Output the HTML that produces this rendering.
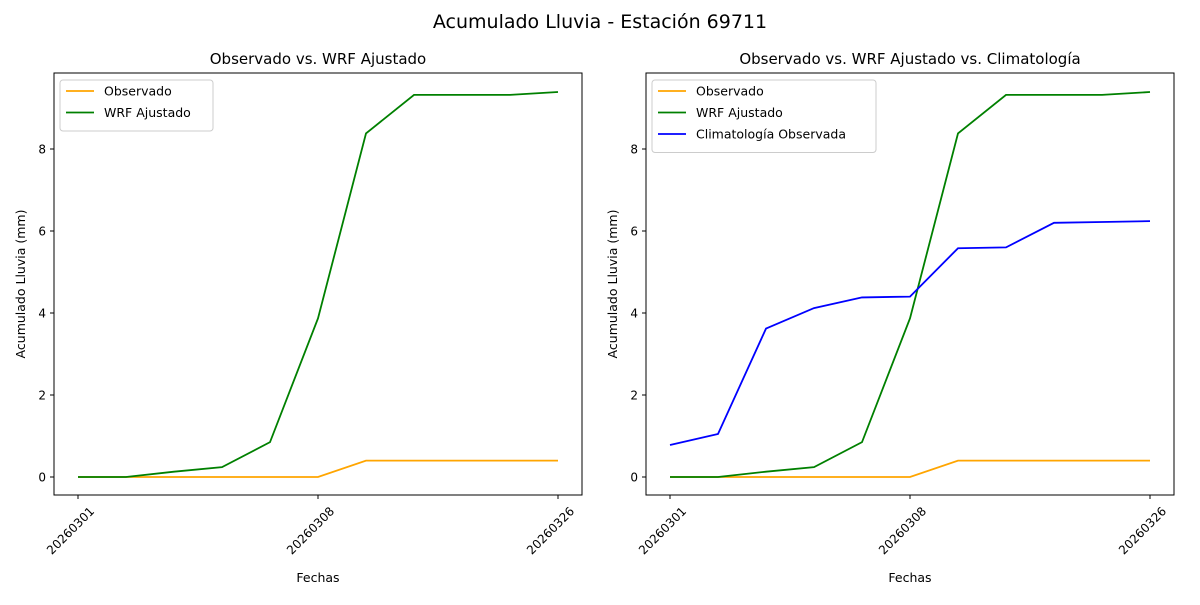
<!DOCTYPE html>
<html><head><meta charset="utf-8"><style>
body{margin:0;background:#fff;font-family:"Liberation Sans","DejaVu Sans",sans-serif}
svg text{font-family:"DejaVu Sans","Liberation Sans",sans-serif}
</style></head><body>
<svg id="c" width="1200" height="600" xmlns="http://www.w3.org/2000/svg"></svg>
<script>
const categories=["20260301","","","","","20260308","","","","","20260326"];
const tickIdx=[0,5,10];
const observado=[0,0,0,0,0,0,0.4,0.4,0.4,0.4,0.4];
const wrf=[0,0,0.13,0.24,0.85,3.87,8.38,9.32,9.32,9.32,9.39];
const clima=[0.78,1.05,3.62,4.12,4.38,4.40,5.58,5.60,6.20,6.22,6.24];
const yTicks=[0,2,4,6,8];
const NS="http://www.w3.org/2000/svg";
const svg=document.getElementById('c');
function el(t,a,p){const e=document.createElementNS(NS,t);for(const k in a)e.setAttribute(k,a[k]);(p||svg).appendChild(e);return e;}
const t=el('text',{x:600,y:28,'text-anchor':'middle','font-size':19});t.textContent='Acumulado Lluvia - Estación 69711';


function panel(x0,title,series,legendW,id){
  const x1=x0+528,yTop=73,yBot=495;
  const g=el('g',{});
  
  
  const X=i=>x0+24+i*48;
  const Y=v=>477-v*41;
  const tt=el('text',{x:(x0+x1)/2,y:64,'text-anchor':'middle','font-size':15},g);tt.textContent=title;
  
  
  series.forEach(s=>{
    const d=s.data.map((v,i)=>(i?'L':'M')+X(i)+','+Y(v)).join(' ');
    const p=el('path',{d:d,fill:'none',stroke:s.color,'stroke-width':1.8},g);
    
    
  });
  el('rect',{x:x0,y:yTop,width:528,height:yBot-yTop,fill:'none',stroke:'#000','stroke-width':1},g);
  yTicks.forEach(v=>{
    el('line',{x1:x0-4,x2:x0,y1:Y(v),y2:Y(v),stroke:'#000'},g);
    const l=el('text',{x:x0-8,y:Y(v)+4.5,'text-anchor':'end','font-size':12},g);l.textContent=v;
    
    
  });
  tickIdx.forEach(i=>{
    el('line',{x1:X(i),x2:X(i),y1:yBot,y2:yBot+4,stroke:'#000'},g);
    const ax=X(i)+17, ay=yBot+17;
    const l=el('text',{x:ax,y:ay,'text-anchor':'end','font-size':12,transform:`rotate(-45 ${ax} ${ay})`},g);
    l.textContent=categories[i];
    
    
  });
  const xl=el('text',{x:(x0+x1)/2,y:582,'text-anchor':'middle','font-size':12.5},g);xl.textContent='Fechas';
  
  
  const yl=el('text',{x:0,y:0,'text-anchor':'middle','font-size':12.5,transform:`translate(${x0-29},284) rotate(-90)`},g);yl.textContent='Acumulado Lluvia (mm)';
  
  
  const lg=el('g',{},g);
  
  
  el('rect',{x:x0+6,y:80,width:legendW,height:8+series.length*21.5,rx:3,fill:'#fff',stroke:'#ccc'},lg);
  series.forEach((s,k)=>{
    const yy=91+k*21.5;
    el('line',{x1:x0+12,x2:x0+40,y1:yy,y2:yy,stroke:s.color,'stroke-width':1.8},lg);
    const lt=el('text',{x:x0+50,y:yy+4.5,'font-size':12.5},lg);lt.textContent=s.label;
    
    
  });
}
panel(54,'Observado vs. WRF Ajustado',[
 {key:'observado',label:'Observado',color:'orange',data:observado},
 {key:'wrf',label:'WRF Ajustado',color:'green',data:wrf}],153,'left-subplot');
panel(646,'Observado vs. WRF Ajustado vs. Climatología',[
 {key:'observado',label:'Observado',color:'orange',data:observado},
 {key:'wrf',label:'WRF Ajustado',color:'green',data:wrf},
 {key:'clima',label:'Climatología Observada',color:'blue',data:clima}],224,'right-subplot');
</script>
</body></html>
